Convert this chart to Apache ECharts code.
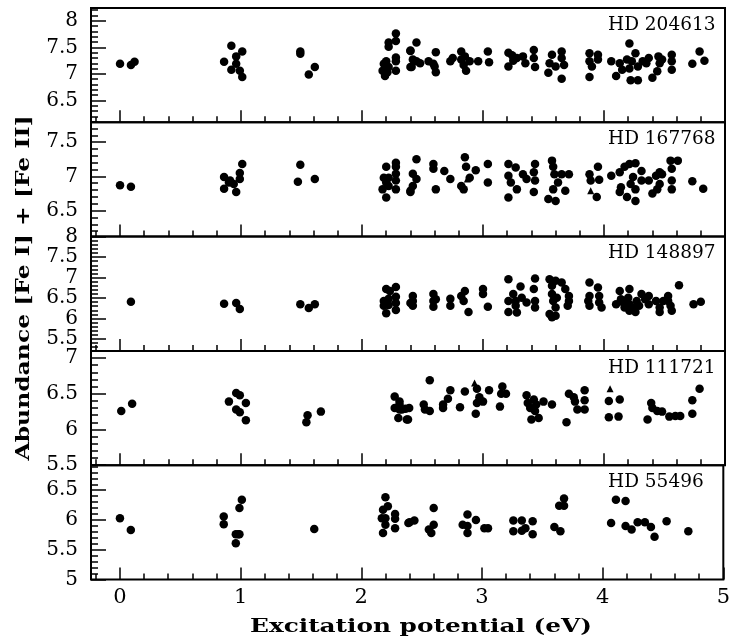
<!DOCTYPE html>
<html>
<head>
<meta charset="utf-8">
<script src="https://cdn.jsdelivr.net/npm/echarts@6/dist/echarts.min.js"></script>
<style>html,body{margin:0;padding:0;background:#fff}#c{width:733px;height:642px}</style>
</head>
<body>
<div id="c"></div>
<script>
// ---------- data ----------
const starNames = ['HD 204613', 'HD 167768', 'HD 148897', 'HD 111721', 'HD 55496'];
const xTickValues = [0, 1, 2, 3, 4, 5];
const yTickLabels = [
  [8, 7.5, 7, 6.5],
  [7.5, 7, 6.5],
  [8, 7.5, 7, 6.5, 6, 5.5],
  [7, 6.5, 6, 5.5],
  [6.5, 6, 5.5, 5]
];
const yRanges = [[6.09, 8.24], [6.12, 7.79], [5.21, 8.0], [5.5, 7.1], [5.0, 6.92]];
const xRange = [-0.24, 5];

const hd204613 = [[0,7.19],[0.09,7.17],[0.12,7.23],
[0.92,7.53],[1.01,7.42],[0.96,7.33],[0.86,7.23],[0.96,7.19],[0.92,7.08],[0.99,7.06],[1.01,6.94],
[1.49,7.42],[1.49,7.38],[1.61,7.13],[1.56,6.99],
[2.28,7.76],[2.28,7.62],[2.22,7.59],[2.22,7.51],[2.28,7.31],[2.28,7.24],[2.20,7.24],[2.18,7.19],[2.22,7.13],[2.17,7.06],[2.28,7.06],[2.19,6.96],[2.21,7.03],[2.40,7.43],[2.40,7.13],
[2.45,7.59],[2.40,7.44],[2.42,7.27],[2.45,7.24],[2.41,7.13],[2.48,7.2],[2.55,7.24],[2.61,7.41],[2.59,7.19],[2.61,7.03],[2.60,7.14],[2.73,7.24],[2.75,7.30],[2.82,7.42],[2.82,7.27],[2.85,7.33],[2.84,7.17],[2.86,7.06],[2.89,7.24],[2.96,7.24],[3.04,7.42],[3.05,7.22],
[3.21,7.40],[3.24,7.35],[3.21,7.14],[3.25,7.25],[3.28,7.30],[3.33,7.33],[3.35,7.20],[3.42,7.45],[3.42,7.30],[3.43,7.13],
[3.57,7.36],[3.55,7.20],[3.54,7.02],[3.60,7.14],[3.65,7.42],[3.65,7.30],[3.67,7.17],[3.65,6.91],
[3.88,7.39],[3.88,7.24],[3.90,7.14],[3.88,6.94],[3.95,7.36],[3.95,7.27],
[4.06,7.24],[4.15,7.08],[4.13,7.20],[4.10,6.96],[4.21,7.57],[4.19,7.27],[4.23,7.24],[4.26,7.39],[4.28,7.14],[4.21,7.10],[4.22,6.88],[4.28,6.88],[4.32,7.24],[4.37,7.30],[4.35,7.20],[4.40,6.93],[4.45,7.33],[4.46,7.20],[4.44,7.05],[4.48,7.27],[4.56,7.36],[4.56,7.24],[4.56,7.08],
[4.73,7.19],[4.79,7.42],[4.83,7.25]];
const hd204613Tri = [];

const hd167768 = [[0,6.87],[0.09,6.85],
[0.86,6.99],[0.86,6.82],[1.01,7.18],[0.99,7.05],[0.99,6.96],[0.90,6.91],[0.94,6.89],[0.91,6.94],[0.96,6.77],
[1.49,7.17],[1.47,6.92],[1.61,6.96],
[2.28,7.2],[2.28,7.14],[2.20,7.14],[2.28,7.04],[2.18,6.98],[2.22,6.98],[2.28,6.94],[2.20,6.91],[2.22,6.86],[2.17,6.81],[2.28,6.81],[2.20,6.69],[2.40,6.77],
[2.45,7.25],[2.42,7.04],[2.45,6.96],[2.40,6.79],[2.42,6.86],[2.59,7.18],[2.59,7.11],[2.61,6.81],[2.68,7.08],[2.73,6.96],
[2.85,7.28],[2.86,7.14],[2.89,6.98],[2.82,6.86],[2.84,6.81],[2.94,7.09],[3.04,7.18],[3.04,6.91],
[3.21,7.18],[3.27,7.13],[3.21,7.01],[3.23,6.91],[3.28,6.81],[3.21,6.69],[3.33,7.03],[3.36,6.96],[3.43,7.18],[3.42,7.06],[3.43,6.94],[3.42,6.77],
[3.57,7.23],[3.58,7.14],[3.59,7.03],[3.62,6.91],[3.58,6.81],[3.65,7.03],[3.71,7.03],[3.68,6.79],[3.54,6.67],[3.60,6.64],
[3.88,7.03],[3.89,6.94],[3.96,6.95],[3.95,7.14],[3.94,6.70],
[4.06,7.01],[4.13,7.06],[4.17,7.14],[4.21,7.18],[4.26,7.19],[4.31,7.08],[4.14,6.84],[4.13,6.77],[4.19,6.70],[4.24,6.99],[4.22,6.89],[4.26,6.81],[4.26,6.64],[4.31,6.94],
[4.37,6.94],[4.40,6.75],[4.43,7.01],[4.46,7.06],[4.46,6.89],[4.44,6.81],[4.48,7.03],[4.55,7.23],[4.61,7.23],[4.56,7.11],[4.56,6.94],[4.56,6.81],
[4.73,6.93],[4.82,6.82]];
const hd167768Tri = [[3.89,6.79],[2.87,6.96]];

const hd148897 = [[0.09,6.41],
[0.86,6.36],[0.96,6.38],[0.99,6.23],
[1.49,6.35],[1.56,6.26],[1.61,6.35],
[2.20,6.72],[2.28,6.77],[2.23,6.67],[2.28,6.53],[2.18,6.43],[2.22,6.48],[2.28,6.38],[2.18,6.31],[2.22,6.33],[2.28,6.21],[2.20,6.13],[2.40,6.38],
[2.42,6.55],[2.42,6.43],[2.42,6.31],[2.59,6.60],[2.59,6.43],[2.59,6.29],[2.61,6.47],[2.73,6.48],[2.73,6.31],
[2.82,6.55],[2.85,6.67],[2.84,6.43],[2.88,6.16],[3.0,6.72],[3.0,6.60],[3.04,6.29],
[3.21,6.96],[3.21,6.43],[3.21,6.16],[3.25,6.60],[3.27,6.43],[3.27,6.31],[3.28,6.15],[3.31,6.78],[3.32,6.51],[3.36,6.39],
[3.43,6.98],[3.42,6.72],[3.43,6.43],[3.43,6.27],
[3.55,6.96],[3.57,6.80],[3.60,6.92],[3.65,6.88],[3.57,6.60],[3.58,6.43],[3.61,6.51],[3.68,6.72],[3.71,6.43],[3.70,6.31],[3.60,6.27],[3.55,6.11],[3.57,6.03],[3.60,6.07],[3.71,6.55],
[3.88,6.88],[3.88,6.55],[3.87,6.43],[3.88,6.31],[3.95,6.76],[3.96,6.55],[3.96,6.39],[3.98,6.27],
[4.13,6.67],[4.14,6.47],[4.10,6.35],[4.16,6.39],[4.17,6.27],[4.21,6.72],[4.20,6.51],[4.21,6.35],[4.24,6.27],[4.27,6.43],[4.29,6.31],[4.31,6.60],[4.34,6.47],[4.21,6.19],[4.26,6.16],
[4.37,6.35],[4.37,6.55],[4.43,6.43],[4.46,6.27],[4.46,6.16],[4.49,6.43],[4.53,6.55],[4.53,6.43],[4.55,6.31],[4.56,6.19],[4.62,6.81],
[4.74,6.35],[4.80,6.41]];
const hd148897Tri = [];

const hd111721 = [[0.01,6.26],[0.10,6.36],
[0.96,6.51],[0.99,6.48],[0.90,6.39],[1.04,6.37],[0.96,6.28],[0.99,6.24],[1.04,6.13],
[1.55,6.20],[1.54,6.10],[1.66,6.25],
[2.27,6.46],[2.31,6.39],[2.27,6.30],[2.31,6.28],[2.36,6.29],[2.30,6.16],[2.37,6.14],
[2.31,6.35],[2.33,6.28],[2.39,6.30],[2.38,6.14],
[2.56,6.69],[2.51,6.35],[2.52,6.28],[2.56,6.26],[2.67,6.35],[2.67,6.30],[2.73,6.55],[2.71,6.43],[2.81,6.31],[2.85,6.53],
[2.95,6.57],[2.97,6.45],[2.95,6.37],[3.0,6.39],[2.94,6.22],[3.05,6.55],[3.16,6.60],[3.15,6.50],[3.19,6.50],[3.14,6.32],
[3.36,6.48],[3.37,6.37],[3.39,6.30],[3.42,6.42],[3.43,6.26],[3.44,6.35],[3.40,6.14],[3.46,6.16],[3.50,6.39],[3.57,6.35],
[3.69,6.10],[3.71,6.50],[3.75,6.45],[3.76,6.39],[3.78,6.28],[3.84,6.55],[3.84,6.41],[3.84,6.28],
[4.04,6.40],[4.13,6.42],[4.04,6.17],[4.12,6.18],
[4.39,6.37],[4.40,6.30],[4.36,6.14],[4.44,6.26],[4.48,6.25],[4.54,6.18],[4.59,6.19],[4.63,6.19],
[4.73,6.41],[4.73,6.22],[4.79,6.57]];
const hd111721Tri = [[2.93,6.65],[4.05,6.57]];

const hd55496 = [[0,6.03],[0.09,5.83],
[0.86,6.06],[0.86,5.93],[0.96,5.76],[0.99,5.76],[0.98,5.76],[0.96,5.61],[0.99,6.20],[1.01,6.34],
[1.61,5.85],
[2.20,6.38],[2.18,6.17],[2.22,6.23],[2.17,6.03],[2.20,6.03],[2.20,5.92],[2.18,5.78],[2.28,6.10],[2.28,6.02],[2.28,5.86],[2.40,5.96],
[2.39,5.95],[2.44,5.99],[2.60,6.20],[2.60,5.92],[2.56,5.84],[2.58,5.78],
[2.84,5.92],[2.88,6.09],[2.88,5.90],[2.88,5.78],[2.95,6.0],[3.02,5.86],[3.05,5.86],
[3.26,5.99],[3.33,5.99],[3.26,5.81],[3.33,5.82],[3.36,5.86],[3.42,5.98],[3.42,5.76],
[3.60,5.88],[3.65,5.81],[3.64,6.24],[3.68,6.24],[3.68,6.36],
[4.07,5.95],[4.11,6.34],[4.19,6.32],[4.19,5.90],[4.24,5.84],[4.29,5.96],[4.35,5.96],[4.40,5.88],[4.43,5.72],[4.53,5.98],
[4.71,5.81]];
const hd55496Tri = [];

const circleSets = [hd204613, hd167768, hd148897, hd111721, hd55496];
const triangleSets = [hd204613Tri, hd167768Tri, hd148897Tri, hd111721Tri, hd55496Tri];

// ---------- layout ----------
const GRID_LEFT = 91, GRID_RIGHT = 8, GRID_TOP = 8, PANEL_H = 114.3;
const numFont = 'DejaVu Serif';
const titleFont = 'DejaVu Serif';

function steps(lo, hi, step) {
  const out = [];
  const a = Math.ceil(lo / step - 1e-9), b = Math.floor(hi / step + 1e-9);
  for (let k = a; k <= b; k++) out.push(Math.round(k * step * 1000) / 1000);
  return out;
}

const grids = [], xAxes = [], yAxes = [], series = [], graphics = [];
for (let i = 0; i < 5; i++) {
  const top = GRID_TOP + i * PANEL_H;
  grids.push({ left: GRID_LEFT, right: GRID_RIGHT, top: top, height: PANEL_H,
    show: true, borderColor: '#000', borderWidth: 2, backgroundColor: 'transparent' });
  const tickStyle = { color: '#000', width: 1.5 };
  xAxes.push({ gridIndex: i, type: 'value', position: 'bottom', min: xRange[0], max: xRange[1],
    axisLine: { show: false, onZero: false }, splitLine: { show: false },
    axisTick: { show: true, inside: true, length: 12, lineStyle: tickStyle, customValues: xTickValues },
    axisLabel: { show: i === 4, customValues: xTickValues, margin: 8, fontSize: 21,
      fontFamily: numFont, color: '#000', formatter: v => String(v) } });
  xAxes.push({ gridIndex: i, type: 'value', position: 'bottom', min: xRange[0], max: xRange[1],
    axisLine: { show: false, onZero: false }, splitLine: { show: false },
    axisTick: { show: true, inside: true, length: 6, lineStyle: tickStyle, customValues: steps(xRange[0], xRange[1], 0.2) },
    axisLabel: { show: false } });
  const yr = yRanges[i];
  yAxes.push({ gridIndex: i, type: 'value', position: 'left', min: yr[0], max: yr[1],
    axisLine: { show: false, onZero: false }, splitLine: { show: false },
    axisTick: { show: true, inside: true, length: 15, lineStyle: tickStyle, customValues: steps(yr[0], yr[1], 0.5) },
    axisLabel: { show: true, customValues: yTickLabels[i], margin: 13, fontSize: 20,
      fontFamily: numFont, color: '#000', formatter: v => String(v) } });
  yAxes.push({ gridIndex: i, type: 'value', position: 'left', min: yr[0], max: yr[1],
    axisLine: { show: false, onZero: false }, splitLine: { show: false },
    axisTick: { show: true, inside: true, length: 7, lineStyle: tickStyle, customValues: steps(yr[0], yr[1], 0.1) },
    axisLabel: { show: false } });

  series.push({ type: 'scatter', xAxisIndex: 2 * i, yAxisIndex: 2 * i, data: circleSets[i],
    symbol: 'circle', symbolSize: 8.5, itemStyle: { color: '#000', opacity: 1 }, silent: true });
  series.push({ type: 'scatter', xAxisIndex: 2 * i, yAxisIndex: 2 * i, data: triangleSets[i],
    symbol: 'triangle', symbolSize: 7, itemStyle: { color: '#000', opacity: 1 }, silent: true });

  graphics.push({ type: 'text', x: 608, y: top + 17,
    style: { text: starNames[i], fontSize: 18.5, fontFamily: 'DejaVu Serif', fill: '#000',
      align: 'left', verticalAlign: 'middle' } });
}

function measure(str, font) {
  const ctx = document.createElement('canvas').getContext('2d');
  ctx.font = font;
  return ctx.measureText(str).width;
}
const TITLE_SIZE = 19;
const xTitle = 'Excitation potential (eV)';
const yTitle = 'Abundance [Fe I] + [Fe II]';
const fontStr = 'bold ' + TITLE_SIZE + 'px "' + titleFont + '"';
const xScale = 342 / measure(xTitle, fontStr);
const yScale = 345 / measure(yTitle, fontStr);

graphics.push({ type: 'text', x: 421, y: 627, scaleX: xScale,
  style: { text: xTitle, fontSize: TITLE_SIZE, fontWeight: 'bold', fontFamily: titleFont, fill: '#000',
    align: 'center', verticalAlign: 'middle' } });
graphics.push({ type: 'text', x: 24, y: 288, rotation: Math.PI / 2, scaleX: yScale,
  style: { text: yTitle, fontSize: TITLE_SIZE, fontWeight: 'bold', fontFamily: titleFont, fill: '#000',
    align: 'center', verticalAlign: 'middle' } });

const chart = echarts.init(document.getElementById('c'), null, { renderer: 'canvas' });
chart.setOption({
  animation: false,
  backgroundColor: '#fff',
  grid: grids,
  xAxis: xAxes,
  yAxis: yAxes,
  series: series,
  graphic: graphics
});
</script>
</body>
</html>
